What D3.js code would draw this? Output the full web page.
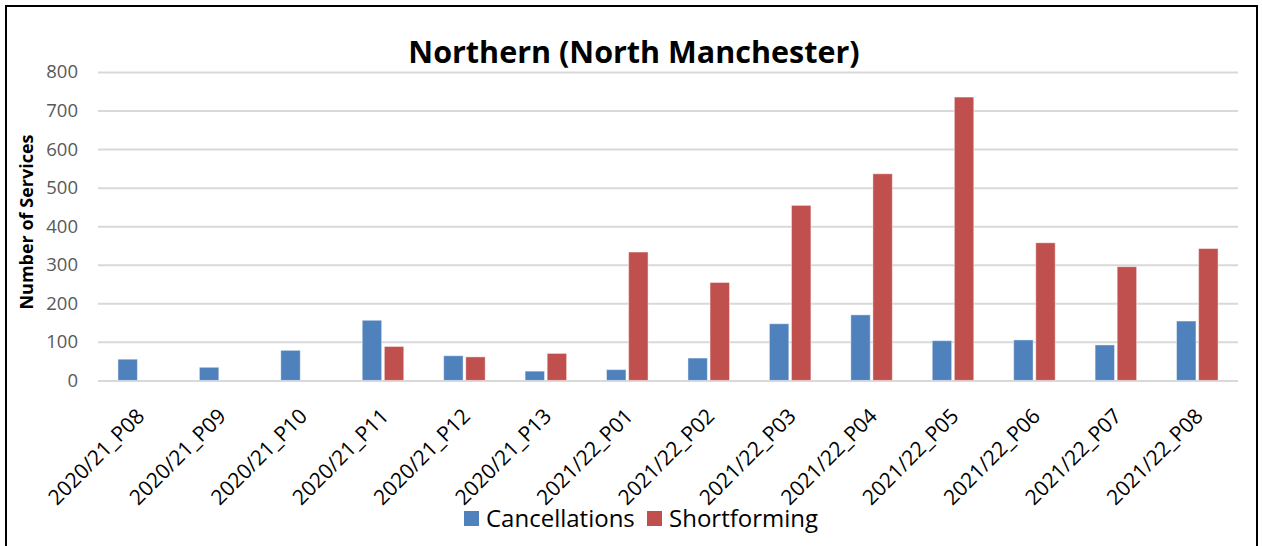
<!DOCTYPE html>
<html>
<head>
<meta charset="utf-8">
<script src="https://cdn.jsdelivr.net/npm/d3@7"></script>
<style>
  body { margin: 0; background: #fff; }
  svg { display: block; font-family: "Open Sans", "Noto Sans", sans-serif; }
</style>
</head>
<body>
<div id="chart"></div>
<script>
var periods = ["2020/21_P08", "2020/21_P09", "2020/21_P10", "2020/21_P11", "2020/21_P12", "2020/21_P13",
  "2021/22_P01", "2021/22_P02", "2021/22_P03", "2021/22_P04", "2021/22_P05", "2021/22_P06",
  "2021/22_P07", "2021/22_P08"];
var cancellations = [55, 34, 78, 156, 64, 24, 28, 58, 147, 170, 103, 105, 92, 154];
var shortforming = [0, 0, 0, 88, 61, 70, 333, 254, 454, 536, 735, 357, 295, 342];
var seriesNames = ["Cancellations", "Shortforming"];
var seriesColors = ["#4f81bd", "#c0504d"];
var yTicks = [0, 100, 200, 300, 400, 500, 600, 700, 800];

var width = 1262, height = 546;
var margin = {top: 72, right: 24, bottom: 166, left: 98};
var fontFamily = "'Open Sans', 'Noto Sans', sans-serif";

var svg = d3.select("#chart").append("svg")
  .attr("width", width)
  .attr("height", height);

// outer frame
svg.append("rect")
  .attr("x", 6).attr("y", 6)
  .attr("width", 1251).attr("height", 560)
  .attr("fill", "none")
  .attr("stroke", "#000")
  .attr("stroke-width", 2);

var table = periods.map(function(p, i) {
  return {period: p, values: [cancellations[i], shortforming[i]]};
});

var x = d3.scaleBand()
  .domain(periods)
  .range([margin.left, width - margin.right])
  .paddingInner(0.49)
  .paddingOuter(0.245);

var xInner = d3.scaleBand()
  .domain(d3.range(2))
  .range([0, x.bandwidth()])
  .paddingInner(0.12);

var y = d3.scaleLinear()
  .domain([0, 800])
  .range([height - margin.bottom + 0.4, margin.top]);

// grid
var yAxis = d3.axisLeft(y)
  .tickValues(yTicks)
  .tickSize(-(width - margin.left - margin.right))
  .tickPadding(20);

var gy = svg.append("g")
  .attr("transform", "translate(" + margin.left + ",0)")
  .call(yAxis)
  .attr("font-family", fontFamily);
gy.select(".domain").remove();
gy.selectAll(".tick line").attr("stroke", "#d9d9d9").attr("stroke-width", 2);
gy.selectAll(".tick text")
  .attr("fill", "#595959")
  .style("font-size", "18.5px");

// bars
var groups = svg.append("g").selectAll("g")
  .data(table)
  .join("g")
  .attr("transform", function(d) { return "translate(" + x(d.period) + ",0)"; });

groups.selectAll("rect")
  .data(function(d) { return d.values.map(function(v, k) { return {k: k, v: v}; }); })
  .join("rect")
  .filter(function(d) { return d.v > 0; })
  .attr("x", function(d) { return xInner(d.k); })
  .attr("y", function(d) { return y(d.v); })
  .attr("width", xInner.bandwidth())
  .attr("height", function(d) { return y(0) - y(d.v); })
  .attr("fill", function(d) { return seriesColors[d.k]; })
  .attr("stroke", "#fff")
  .attr("stroke-opacity", 0.45)
  .attr("stroke-width", 1);

// x axis labels
var xAxis = d3.axisBottom(x).tickSize(0).tickPadding(0);
var gx = svg.append("g")
  .attr("transform", "translate(0," + y(0) + ")")
  .call(xAxis)
  .attr("font-family", fontFamily);
gx.select(".domain").remove();
gx.selectAll(".tick text")
  .attr("fill", "#000")
  .style("font-size", "21px")
  .attr("text-anchor", "end")
  .attr("y", 0)
  .attr("dy", 0)
  .attr("transform", "translate(7,37) rotate(-45)");

// title
svg.append("text")
  .attr("x", 634)
  .attr("y", 63)
  .attr("text-anchor", "middle")
  .style("font-size", "30.5px")
  .style("font-weight", "bold")
  .text("Northern (North Manchester)");

// y axis title
svg.append("text")
  .attr("transform", "translate(33,222) rotate(-90)")
  .attr("text-anchor", "middle")
  .style("font-size", "18px")
  .style("font-weight", "bold")
  .text("Number of Services");

// legend
var legend = svg.append("g").attr("transform", "translate(464,519)");
var items = legend.selectAll("g")
  .data(seriesNames)
  .join("g")
  .attr("transform", function(d, i) { return "translate(" + (i * 183) + ",0)"; });
items.append("rect")
  .attr("x", 0).attr("y", -8)
  .attr("width", 15).attr("height", 15)
  .attr("fill", function(d, i) { return seriesColors[i]; });
items.append("text")
  .attr("x", 22)
  .attr("dy", "0.35em")
  .style("font-size", "24px")
  .attr("fill", "#000")
  .text(function(d) { return d; });
</script>
</body>
</html>
